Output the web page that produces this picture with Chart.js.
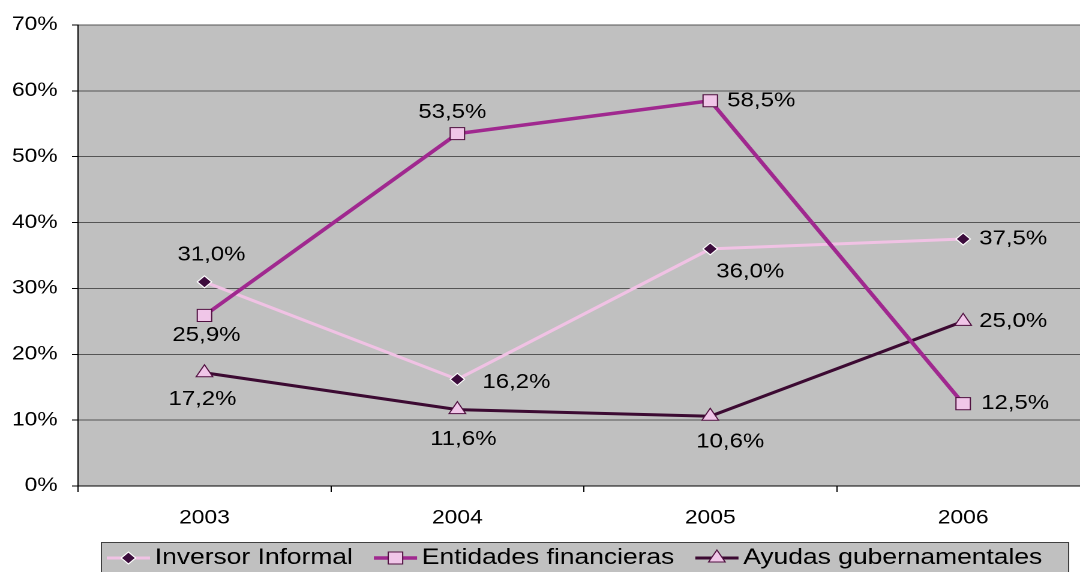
<!DOCTYPE html>
<html>
<head>
<meta charset="utf-8">
<script src="https://cdn.jsdelivr.net/npm/chart.js@4.4.1/dist/chart.umd.min.js"></script>
<style>
  html, body { margin: 0; padding: 0; background: #fff; overflow: hidden; }
  /* the reference is stretched horizontally, so the whole chart is too */
  #wrap { width: 908px; height: 572px; transform: scaleX(1.2); transform-origin: 0 0; }
</style>
</head>
<body>
<div id="wrap"><canvas id="chartLine" width="908" height="572"></canvas></div>
<script>
// data
const years = ['2003', '2004', '2005', '2006'];
const inversorInformal = [31.0, 16.2, 36.0, 37.5];
const entidadesFinancieras = [25.9, 53.5, 58.5, 12.5];
const ayudasGubernamentales = [17.2, 11.6, 10.6, 25.0];
const seriesNames = ['Inversor Informal', 'Entidades financieras', 'Ayudas gubernamentales'];
const yTicks = [0, 10, 20, 30, 40, 50, 60, 70];

const SX = 1.2; // horizontal stretch of the page

// value label placement: [align, dx, dy] relative to the point (screen px)
const labelPos = [
    [['center', 7, -27], ['left', 25, 3], ['center', 40, 23], ['left', 16, 0]],
    [['center', 2, 20], ['center', -5, -21], ['left', 17, 0], ['left', 18, 0]],
    [['center', -2, 27], ['center', 6, 30], ['center', 20, 26], ['left', 16, 0]],
];

const FONT = '"Liberation Sans", Arial, sans-serif';
const fmt = v => v.toFixed(1).replace('.', ',') + '%';

//grey plot background
const plotBg = {
    id: 'plotBg',
    beforeDraw(chart) {
        const {ctx, chartArea: a} = chart;
        ctx.save();
        ctx.fillStyle = '#c0c0c0';
        ctx.fillRect(a.left, a.top, a.right - a.left, a.bottom - a.top);
        ctx.restore();
    }
};

//value labels next to the points
const pointLabels = {
    id: 'pointLabels',
    afterDatasetsDraw(chart) {
        const ctx = chart.ctx;
        ctx.save();
        ctx.font = '20px ' + FONT;
        ctx.fillStyle = '#000';
        ctx.textBaseline = 'middle';
        chart.data.datasets.forEach((ds, i) => {
            chart.getDatasetMeta(i).data.forEach((pt, j) => {
                const [align, dx, dy] = labelPos[i][j];
                ctx.textAlign = align;
                ctx.fillText(fmt(ds.data[j]), pt.x + dx / SX, pt.y + dy);
            });
        });
        ctx.restore();
    }
};

//boxed legend at the bottom
const legendBox = {
    id: 'legendBox',
    afterDraw(chart) {
        const ctx = chart.ctx;
        const top = 542, left = 84, right = 890, lineY = 558;
        ctx.save();
        ctx.fillStyle = '#c0c0c0';
        ctx.fillRect(left, top, right - left, 40);
        ctx.strokeStyle = '#404040';
        ctx.lineWidth = 1;
        ctx.strokeRect(left + 0.5, top + 0.5, right - left, 40);
        ctx.font = '22px ' + FONT;
        ctx.textBaseline = 'alphabetic';
        ctx.textAlign = 'left';
        let x = left + 5;
        chart.data.datasets.forEach(ds => {
            ctx.strokeStyle = ds.borderColor;
            ctx.lineWidth = ds.borderWidth;
            ctx.beginPath();
            ctx.moveTo(x, lineY);
            ctx.lineTo(x + 36, lineY);
            ctx.stroke();
            ctx.fillStyle = ds.pointBackgroundColor;
            ctx.strokeStyle = ds.pointBorderColor;
            ctx.lineWidth = ds.pointBorderWidth;
            Chart.helpers.drawPoint(ctx, {
                pointStyle: ds.pointStyle,
                radius: ds.pointRadius,
                rotation: 0,
                borderWidth: ds.pointBorderWidth
            }, x + 18, lineY);
            ctx.fillStyle = '#000';
            ctx.fillText(ds.label, x + 40, 564);
            x += 40 + ctx.measureText(ds.label).width + 17.5;
        });
        ctx.restore();
    }
};

const data = {
    labels: years,
    datasets: [{
        label: seriesNames[0],
        data: inversorInformal,
        order: 1,
        borderColor: '#f0c2e4',
        borderWidth: 3,
        pointStyle: 'rectRot',
        pointRadius: 6,
        pointHoverRadius: 6,
        pointBackgroundColor: '#3c0c3c',
        pointBorderColor: '#ffffff',
        pointBorderWidth: 1,
    }, {
        label: seriesNames[1],
        data: entidadesFinancieras,
        order: 0,
        borderColor: '#a0288f',
        borderWidth: 3.5,
        pointStyle: 'rect',
        pointRadius: 8.5,
        pointHoverRadius: 8.5,
        pointBackgroundColor: '#f0c6e8',
        pointBorderColor: '#501040',
        pointBorderWidth: 1,
    }, {
        label: seriesNames[2],
        data: ayudasGubernamentales,
        order: 2,
        borderColor: '#3c0a32',
        borderWidth: 3,
        pointStyle: 'triangle',
        pointRadius: 8,
        pointHoverRadius: 8,
        pointBackgroundColor: '#f0c6e8',
        pointBorderColor: '#501040',
        pointBorderWidth: 1,
    }]
};

const config = {
    type: 'line',
    data,
    plugins: [plotBg, pointLabels, legendBox],
    options: {
        responsive: false,
        devicePixelRatio: 2,
        animation: false,
        layout: { autoPadding: false, padding: { top: 25, left: 0, right: 0, bottom: 0 } },
        elements: { line: { tension: 0 } },
        scales: {
            x: {
                offset: true,
                grid: { display: true, drawOnChartArea: false, offset: true, tickLength: 6, color: '#000' },
                border: { color: '#000', width: 1 },
                ticks: { color: '#000', font: { size: 19, family: FONT }, padding: 15, maxRotation: 0 },
                afterFit(s) { s.height = 86; }
            },
            y: {
                min: 0,
                max: 70,
                grid: { color: '#555', tickColor: '#000', tickLength: 5, lineWidth: 1 },
                border: { color: '#000', width: 1 },
                ticks: { color: '#000', font: { size: 19, family: FONT }, padding: 12, callback: v => v + '%' },
                afterBuildTicks(s) { s.ticks = yTicks.map(v => ({ value: v })); },
                afterFit(s) { s.width = 65; }
            }
        },
        plugins: {
            legend: { display: false },
            tooltip: { enabled: false }
        }
    }
};

new Chart(document.getElementById('chartLine'), config);
</script>
</body>
</html>
